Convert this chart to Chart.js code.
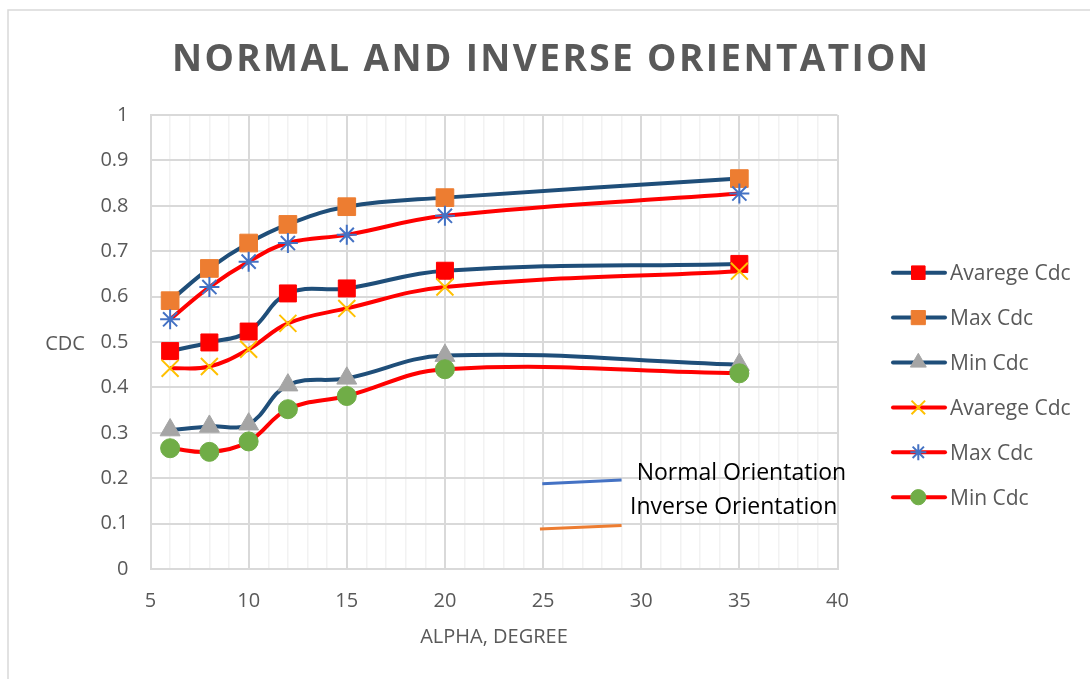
<!DOCTYPE html>
<html><head><meta charset="utf-8">
<script src="https://cdn.jsdelivr.net/npm/chart.js@4/dist/chart.umd.min.js"></script>
<style>html,body{margin:0;padding:0;background:#fff;}</style>
</head><body>
<canvas id="c" width="1090" height="679"></canvas>
<script>
// ---- data ----
const alpha = [6, 8, 10, 12, 15, 20, 35];
const avgNormal  = [0.480, 0.499, 0.523, 0.607, 0.618, 0.657, 0.672];
const maxNormal  = [0.591, 0.662, 0.718, 0.759, 0.798, 0.818, 0.860];
const minNormal  = [0.306, 0.314, 0.319, 0.405, 0.420, 0.470, 0.450];
const avgInverse = [0.442, 0.446, 0.484, 0.541, 0.574, 0.621, 0.656];
const maxInverse = [0.550, 0.621, 0.677, 0.718, 0.736, 0.778, 0.827];
const minInverse = [0.266, 0.258, 0.281, 0.352, 0.381, 0.440, 0.431];
const seriesNames = ['Avarege Cdc', 'Max Cdc', 'Min Cdc', 'Avarege Cdc', 'Max Cdc', 'Min Cdc'];
const xTickLabels = [5, 10, 15, 20, 25, 30, 35, 40];
const yTickLabels = ['0', '0.1', '0.2', '0.3', '0.4', '0.5', '0.6', '0.7', '0.8', '0.9', '1'];
const chartTitle = 'NORMAL AND INVERSE ORIENTATION';
const xTitle = 'ALPHA, DEGREE';
const yTitle = 'CDC';
const noteNormal = 'Normal Orientation';
const noteInverse = 'Inverse Orientation';

// ---- styles ----
const NAVY = '#1F4E79', RED = '#FF0000', TXT = '#595959';
const FONT = "'Open Sans', 'Liberation Sans', sans-serif";
const styles = [
  {line: NAVY, style: 'rect', color: '#FF0000', r: 12, bw: 1},
  {line: NAVY, style: 'rect', color: '#ED7D31', r: 12.5, bw: 1},
  {line: NAVY, style: 'triangle', color: '#A5A5A5', r: 11.5, bw: 1},
  {line: RED, style: 'crossRot', color: '#FFC000', r: 12, bw: 2},
  {line: RED, style: 'star', color: '#4472C4', r: 10, bw: 2},
  {line: RED, style: 'circle', color: '#70AD47', r: 9.5, bw: 1}
];
const seriesValues = [avgNormal, maxNormal, minNormal, avgInverse, maxInverse, minInverse];

const datasets = seriesValues.map((vals, i) => ({
  label: seriesNames[i],
  data: alpha.map((x, k) => ({x: x, y: vals[k]})),
  borderColor: styles[i].line,
  borderWidth: 4,
  tension: 0.4,
  fill: false,
  pointStyle: styles[i].style,
  pointRadius: styles[i].r,
  pointHoverRadius: styles[i].r,
  pointBackgroundColor: styles[i].color,
  pointBorderColor: styles[i].color,
  pointBorderWidth: styles[i].bw,
  order: 10 - i
}));

function fallbackDrawPoint(ctx, o, x, y) {
  const r = o.radius; ctx.beginPath();
  switch (o.pointStyle) {
    case 'rect': { const s = Math.SQRT1_2 * r; ctx.rect(x - s, y - s, 2 * s, 2 * s); break; }
    case 'triangle': ctx.moveTo(x, y - r); ctx.lineTo(x + r * 0.866, y + r / 2); ctx.lineTo(x - r * 0.866, y + r / 2); ctx.closePath(); break;
    case 'circle': ctx.arc(x, y, r, 0, Math.PI * 2); ctx.closePath(); break;
    case 'crossRot': { const s = Math.SQRT1_2 * r; ctx.moveTo(x - s, y - s); ctx.lineTo(x + s, y + s); ctx.moveTo(x - s, y + s); ctx.lineTo(x + s, y - s); break; }
    case 'star': { const s = Math.SQRT1_2 * r; ctx.moveTo(x, y - r); ctx.lineTo(x, y + r); ctx.moveTo(x - r, y); ctx.lineTo(x + r, y); ctx.moveTo(x - s, y - s); ctx.lineTo(x + s, y + s); ctx.moveTo(x - s, y + s); ctx.lineTo(x + s, y - s); break; }
  }
  if (['rect', 'triangle', 'circle'].includes(o.pointStyle)) ctx.fill();
  if (o.borderWidth > 0) ctx.stroke();
}
const drawPt = (Chart.helpers && Chart.helpers.drawPoint) ? Chart.helpers.drawPoint : fallbackDrawPoint;

const deco = {
  id: 'deco',
  beforeDraw(chart) {
    const ctx = chart.ctx;
    ctx.save();
    ctx.fillStyle = '#fff';
    ctx.fillRect(0, 0, chart.width, chart.height);
    ctx.strokeStyle = '#d9d9d9';
    ctx.lineWidth = 1.5;
    ctx.strokeRect(8, 10, chart.width + 40, chart.height + 40);
    ctx.restore();
  },
  afterDraw(chart) {
    const ctx = chart.ctx;
    const xs = chart.scales.x, ys = chart.scales.y;
    ctx.save();
    // title with letter spacing
    ctx.font = "bold 37px " + FONT;
    ctx.fillStyle = TXT;
    ctx.textBaseline = 'alphabetic';
    ctx.textAlign = 'left';
    const chars = chartTitle.split('');
    const natural = chars.reduce((s, c) => s + ctx.measureText(c).width, 0);
    const targetW = 756;
    const sp = (targetW - natural) / (chars.length - 1);
    let tx = 172;
    chars.forEach(c => { ctx.fillText(c, tx, 71); tx += ctx.measureText(c).width + sp; });

    // y title (horizontal)
    ctx.font = "20px " + FONT;
    ctx.textAlign = 'center';
    ctx.textBaseline = 'middle';
    ctx.fillText(yTitle, 65, 344);

    // annotation lines + text (in data units)
    ctx.lineCap = 'butt';
    ctx.lineWidth = 3;
    ctx.strokeStyle = '#4472C4';
    ctx.beginPath();
    ctx.moveTo(xs.getPixelForValue(24.96), ys.getPixelForValue(0.188));
    ctx.lineTo(xs.getPixelForValue(29.0), ys.getPixelForValue(0.196));
    ctx.stroke();
    ctx.strokeStyle = '#ED7D31';
    ctx.beginPath();
    ctx.moveTo(xs.getPixelForValue(24.84), ys.getPixelForValue(0.088));
    ctx.lineTo(xs.getPixelForValue(29.0), ys.getPixelForValue(0.096));
    ctx.stroke();
    ctx.fillStyle = '#000000';
    ctx.font = "23px " + FONT;
    ctx.textAlign = 'left';
    ctx.textBaseline = 'alphabetic';
    ctx.fillText(noteNormal, xs.getPixelForValue(29.77), ys.getPixelForValue(0.196));
    ctx.fillText(noteInverse, xs.getPixelForValue(29.43), ys.getPixelForValue(0.121));

    // legend
    ctx.font = "21px " + FONT;
    chart.data.datasets.forEach((ds, i) => {
      const cy = 272.7 + i * 44.9;
      ctx.strokeStyle = ds.borderColor;
      ctx.lineWidth = 4;
      ctx.lineCap = 'round';
      ctx.beginPath(); ctx.moveTo(893, cy); ctx.lineTo(945, cy); ctx.stroke();
      ctx.lineCap = 'butt';
      ctx.fillStyle = ds.pointBackgroundColor;
      ctx.strokeStyle = ds.pointBorderColor;
      ctx.lineWidth = ds.pointBorderWidth;
      drawPt(ctx, {pointStyle: ds.pointStyle, radius: ds.pointRadius * 0.8, rotation: 0, borderWidth: ds.pointBorderWidth}, 918.3, cy);
      ctx.fillStyle = TXT;
      ctx.fillText(ds.label, 950, cy + 7.5);
    });
    ctx.restore();
  }
};

new Chart(document.getElementById('c'), {
  type: 'line',
  data: {datasets: datasets},
  options: {
    responsive: false,
    animation: false,
    devicePixelRatio: 1,
    layout: {padding: {top: 115, right: 252.5, left: 0, bottom: 0}},
    plugins: {legend: {display: false}, title: {display: false}, tooltip: {enabled: false}},
    scales: {
      x: {
        type: 'linear', min: 5, max: 40,
        afterFit: s => { s.height = 110; },
        ticks: {
          stepSize: 1, autoSkip: false, maxRotation: 0, padding: 20,
          color: TXT, font: {family: FONT, size: 20},
          callback: v => xTickLabels.includes(v) ? String(v) : ''
        },
        grid: {
          drawTicks: false,
          color: c => (c.tick && xTickLabels.includes(c.tick.value)) ? '#d9d9d9' : '#f2f2f2',
          lineWidth: c => (c.tick && xTickLabels.includes(c.tick.value)) ? 2 : 1.5
        },
        border: {color: '#d9d9d9', width: 2},
        title: {display: true, text: xTitle, color: TXT, font: {family: FONT, size: 20}, padding: {top: 0, bottom: 30}}
      },
      y: {
        type: 'linear', min: 0, max: 1,
        afterFit: s => { s.width = 150.5; },
        ticks: {
          stepSize: 0.1, padding: 22, color: TXT, font: {family: FONT, size: 20},
          callback: (v, i) => yTickLabels[i]
        },
        grid: {drawTicks: false, color: '#d9d9d9', lineWidth: 2},
        border: {color: '#d9d9d9', width: 2}
      }
    }
  },
  plugins: [deco]
});
</script>
</body></html>
